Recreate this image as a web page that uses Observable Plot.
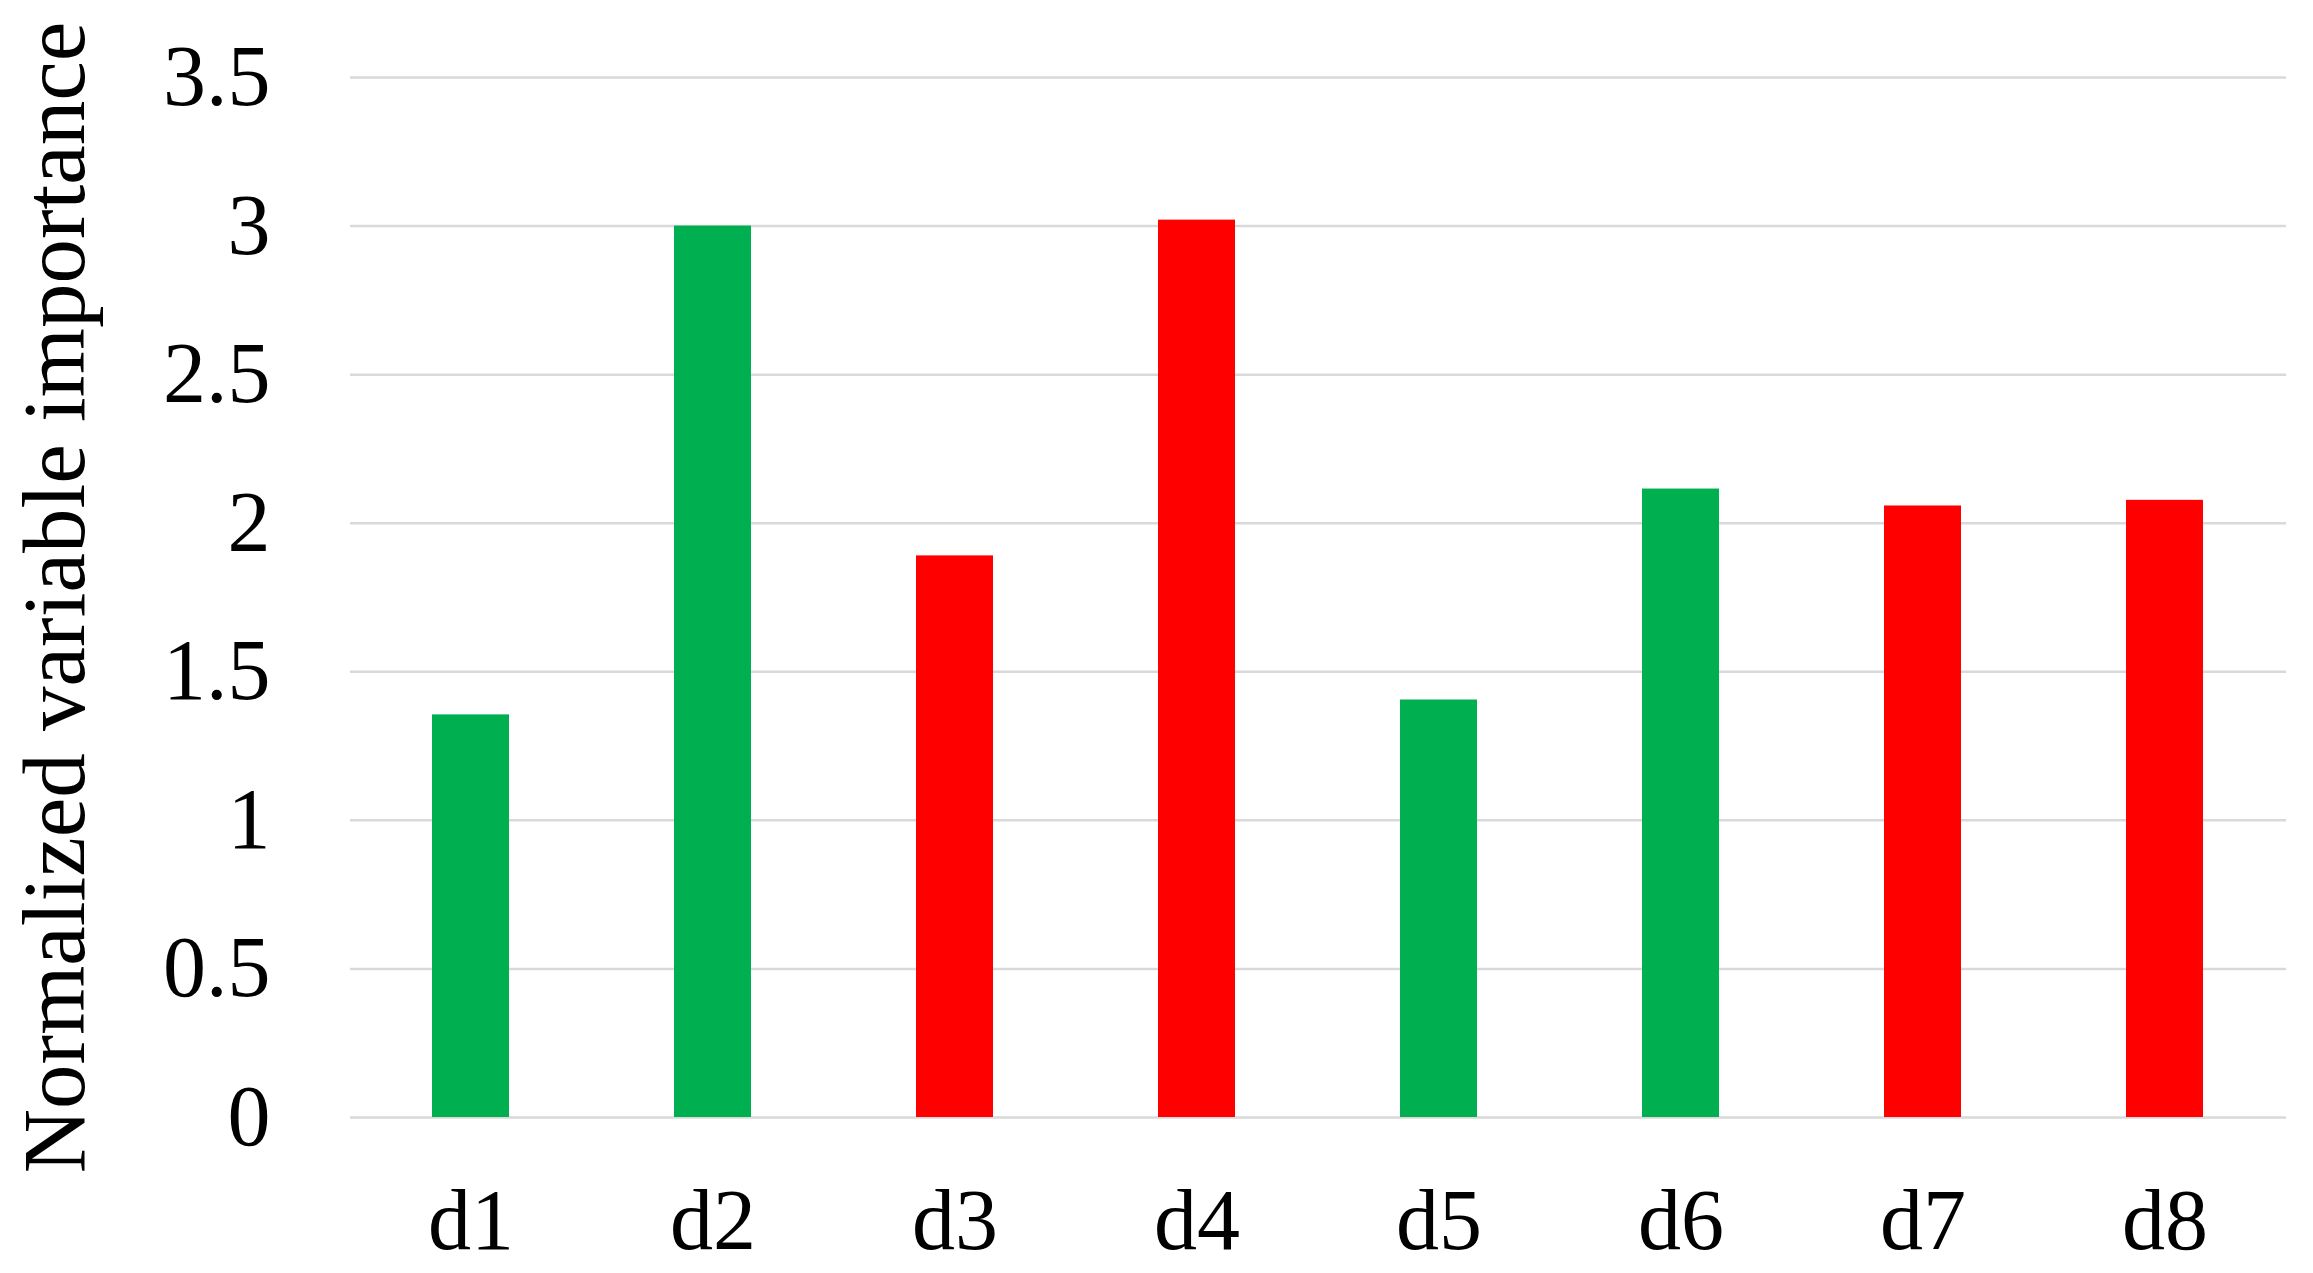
<!DOCTYPE html>
<html>
<head>
<meta charset="utf-8">
<script src="https://cdn.jsdelivr.net/npm/d3@7"></script>
<script src="https://cdn.jsdelivr.net/npm/@observablehq/plot@0.6"></script>
<style>
  html, body { margin: 0; padding: 0; background: #fff; }
  #chart svg { display: block; }
</style>
</head>
<body>
<div id="chart"></div>
<script>
const categories = ["d1", "d2", "d3", "d4", "d5", "d6", "d7", "d8"];
const values = [1.355, 3.0, 1.89, 3.02, 1.405, 2.115, 2.058, 2.077];
const groups = ["A", "A", "B", "B", "A", "A", "B", "B"];
const groupColors = ["#00B050", "#FF0000"];
const yTicks = [0, 0.5, 1, 1.5, 2, 2.5, 3, 3.5];
const yLabel = "Normalized variable importance";

const data = categories.map((c, i) => ({cat: c, value: values[i], group: groups[i]}));

const chart = Plot.plot({
  width: 2313,
  height: 1273,
  marginLeft: 350,
  marginRight: 27,
  marginTop: 77,
  marginBottom: 156,
  style: {fontFamily: "'Liberation Serif', 'Times New Roman', serif", background: "#fff", color: "#000"},
  x: {domain: categories, paddingInner: 0.68, paddingOuter: 0.34},
  y: {domain: [0, 3.5]},
  color: {domain: ["A", "B"], range: groupColors},
  marks: [
    Plot.ruleY(yTicks, {stroke: "#d9d9d9", strokeWidth: 2.5}),
    Plot.barY(data, {x: "cat", y: "value", fill: "group"}),
    Plot.axisY({
      ticks: yTicks,
      tickFormat: d => String(d),
      tickSize: 0,
      tickPadding: 80,
      fontSize: 86,
      label: null
    }),
    Plot.axisY({
      ticks: [],
      tickSize: 0,
      fontSize: 89,
      label: yLabel,
      labelAnchor: "center",
      labelOffset: 330,
      labelArrow: "none"
    }),
    Plot.axisX({
      tickSize: 0,
      tickPadding: 70,
      fontSize: 86,
      label: null
    })
  ]
});
document.getElementById("chart").appendChild(chart);
</script>
</body>
</html>
